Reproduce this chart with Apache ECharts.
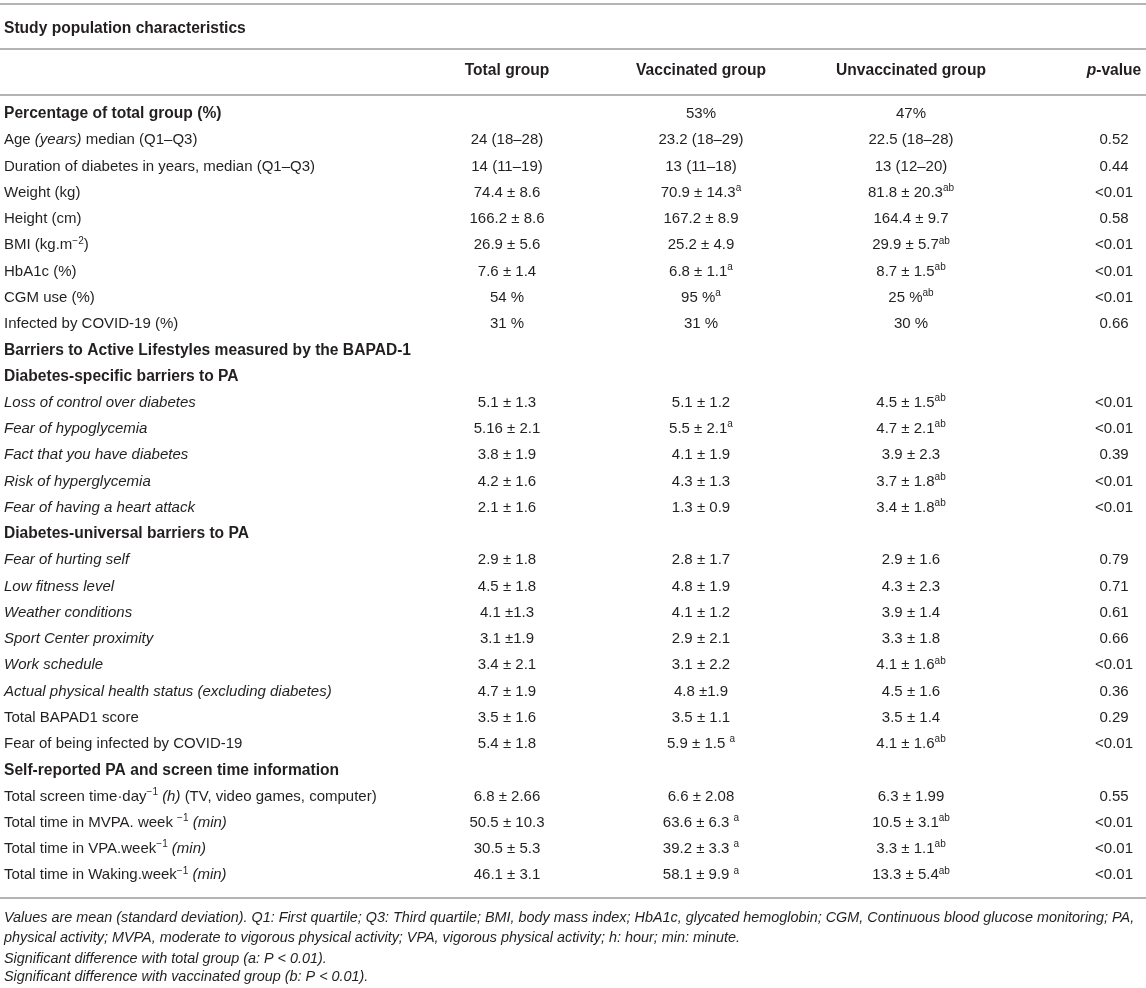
<!DOCTYPE html>
<html>
<head>
<meta charset="utf-8">
<title>Study population characteristics</title>
<script src="https://cdn.jsdelivr.net/npm/echarts@6/dist/echarts.min.js"></script>
<style>
  html, body { margin: 0; padding: 0; background: #fff; }
  #main { width: 1146px; height: 988px; }
</style>
</head>
<body>
<div id="main"></div>
<script>
// markup: *italic*  ^superscript^
const titleText = 'Study population characteristics';
const headers = ['Total group', 'Vaccinated group', 'Unvaccinated group', '*p*-value'];

const rowLabels = [
  'Percentage of total group (%)',
  'Age *(years)* median (Q1–Q3)',
  'Duration of diabetes in years, median (Q1–Q3)',
  'Weight (kg)',
  'Height (cm)',
  'BMI (kg.m^−2^)',
  'HbA1c (%)',
  'CGM use (%)',
  'Infected by COVID-19 (%)',
  'Barriers to Active Lifestyles measured by the BAPAD-1',
  'Diabetes-specific barriers to PA',
  '*Loss of control over diabetes*',
  '*Fear of hypoglycemia*',
  '*Fact that you have diabetes*',
  '*Risk of hyperglycemia*',
  '*Fear of having a heart attack*',
  'Diabetes-universal barriers to PA',
  '*Fear of hurting self*',
  '*Low fitness level*',
  '*Weather conditions*',
  '*Sport Center proximity*',
  '*Work schedule*',
  '*Actual physical health status (excluding diabetes)*',
  'Total BAPAD1 score',
  'Fear of being infected by COVID-19',
  'Self-reported PA and screen time information',
  'Total screen time·day^−1^ *(h)* (TV, video games, computer)',
  'Total time in MVPA. week ^−1^ *(min)*',
  'Total time in VPA.week^−1^ *(min)*',
  'Total time in Waking.week^−1^ *(min)*'
];
const sectionRows = [0, 9, 10, 16, 25];

const totalGroup = [
  '', '24 (18–28)', '14 (11–19)', '74.4 ± 8.6', '166.2 ± 8.6', '26.9 ± 5.6', '7.6 ± 1.4', '54 %', '31 %',
  '', '',
  '5.1 ± 1.3', '5.16 ± 2.1', '3.8 ± 1.9', '4.2 ± 1.6', '2.1 ± 1.6',
  '',
  '2.9 ± 1.8', '4.5 ± 1.8', '4.1 ±1.3', '3.1 ±1.9', '3.4 ± 2.1', '4.7 ± 1.9', '3.5 ± 1.6', '5.4 ± 1.8',
  '',
  '6.8 ± 2.66', '50.5 ± 10.3', '30.5 ± 5.3', '46.1 ± 3.1'
];
const vaccinated = [
  '53%', '23.2 (18–29)', '13 (11–18)', '70.9 ± 14.3^a^', '167.2 ± 8.9', '25.2 ± 4.9', '6.8 ± 1.1^a^', '95 %^a^', '31 %',
  '', '',
  '5.1 ± 1.2', '5.5 ± 2.1^a^', '4.1 ± 1.9', '4.3 ± 1.3', '1.3 ± 0.9',
  '',
  '2.8 ± 1.7', '4.8 ± 1.9', '4.1 ± 1.2', '2.9 ± 2.1', '3.1 ± 2.2', '4.8 ±1.9', '3.5 ± 1.1', '5.9 ± 1.5 ^a^',
  '',
  '6.6 ± 2.08', '63.6 ± 6.3 ^a^', '39.2 ± 3.3 ^a^', '58.1 ± 9.9 ^a^'
];
const unvaccinated = [
  '47%', '22.5 (18–28)', '13 (12–20)', '81.8 ± 20.3^ab^', '164.4 ± 9.7', '29.9 ± 5.7^ab^', '8.7 ± 1.5^ab^', '25 %^ab^', '30 %',
  '', '',
  '4.5 ± 1.5^ab^', '4.7 ± 2.1^ab^', '3.9 ± 2.3', '3.7 ± 1.8^ab^', '3.4 ± 1.8^ab^',
  '',
  '2.9 ± 1.6', '4.3 ± 2.3', '3.9 ± 1.4', '3.3 ± 1.8', '4.1 ± 1.6^ab^', '4.5 ± 1.6', '3.5 ± 1.4', '4.1 ± 1.6^ab^',
  '',
  '6.3 ± 1.99', '10.5 ± 3.1^ab^', '3.3 ± 1.1^ab^', '13.3 ± 5.4^ab^'
];
const pValues = [
  '', '0.52', '0.44', '<0.01', '0.58', '<0.01', '<0.01', '<0.01', '0.66',
  '', '',
  '<0.01', '<0.01', '0.39', '<0.01', '<0.01',
  '',
  '0.79', '0.71', '0.61', '0.66', '<0.01', '0.36', '0.29', '<0.01',
  '',
  '0.55', '<0.01', '<0.01', '<0.01'
];

const footnotes = [
  'Values are mean (standard deviation). Q1: First quartile; Q3: Third quartile; BMI, body mass index; HbA1c, glycated hemoglobin; CGM, Continuous blood glucose monitoring; PA,',
  'physical activity; MVPA, moderate to vigorous physical activity; VPA, vigorous physical activity; h: hour; min: minute.',
  'Significant difference with total group (a: P < 0.01).',
  'Significant difference with vaccinated group (b: P < 0.01).'
];

// layout (axis units: x in px across the table, y in row steps)
const ROW_H = 26.25, ROW0_PX = 114, H = 988;
const titleRow = -3.24, headerRow = -1.64;
const footRows = [30.63, 31.39, 32.19, 32.88];
const ruleRows = [-4.19, -2.48, -0.72, 29.87];
const columns = [
  { texts: totalGroup, x: 507, align: 'center' },
  { texts: vaccinated, x: 701, align: 'center' },
  { texts: unvaccinated, x: 911, align: 'center' },
  { texts: pValues, x: 1114, align: 'center' }
];
const LEFT_X = 4;
const FONT = '"Liberation Sans", Arial, Helvetica, sans-serif';
const INK = '#231f20';

function mk(size, weight, style, extra) {
  return Object.assign({ fontSize: size, fontWeight: weight, fontStyle: style, fontFamily: FONT, color: INK, lineHeight: 19 }, extra || {});
}
const rich = {
  n: mk(15, 'normal', 'normal'),
  i: mk(15, 'normal', 'italic'),
  s: mk(10, 'normal', 'normal', { verticalAlign: 'top', lineHeight: 13 }),
  b: mk(15.6, 'bold', 'normal'),
  bi: mk(15.6, 'bold', 'italic'),
  f: mk(14.4, 'normal', 'italic', { color: '#333' })
};

function toRich(str, bold) {
  const parts = str.split(/(\*[^*]+\*|\^[^^]+\^)/).filter(p => p.length);
  return parts.map(p => {
    if (p[0] === '*') return '{' + (bold ? 'bi' : 'i') + '|' + p.slice(1, -1) + '}';
    if (p[0] === '^') return '{s|' + p.slice(1, -1) + '}';
    return '{' + (bold ? 'b' : 'n') + '|' + p + '}';
  }).join('');
}

// a text column drawn through the axes
function textSeries(name, items) {
  return {
    name: name,
    type: 'custom',
    silent: true,
    data: items.map(it => [it.x, it.row]),
    renderItem: function (params, api) {
      const it = items[params.dataIndex];
      const pt = api.coord([api.value(0), api.value(1)]);
      return {
        type: 'text',
        x: pt[0],
        y: pt[1],
        style: {
          text: it.text,
          rich: rich,
          align: it.align,
          verticalAlign: 'middle',
          fill: INK
        }
      };
    }
  };
}

const labelItems = rowLabels.map((t, i) => ({
  x: LEFT_X, row: i, align: 'left', text: toRich(t, sectionRows.includes(i))
}));
labelItems.push({ x: LEFT_X, row: titleRow, align: 'left', text: toRich(titleText, true) });

const headerItems = headers.map((t, c) => ({
  x: columns[c].x, row: headerRow, align: columns[c].align, text: toRich(t, true)
}));

const cellItems = [];
columns.forEach(col => {
  col.texts.forEach((t, i) => {
    if (t) cellItems.push({ x: col.x, row: i, align: col.align, text: toRich(t, false) });
  });
});

const footItems = footnotes.map((t, i) => ({
  x: LEFT_X, row: footRows[i], align: 'left', text: '{f|' + t + '}'
}));

const series = [
  textSeries('labels', labelItems),
  textSeries('headers', headerItems),
  textSeries('cells', cellItems),
  textSeries('footnotes', footItems)
];
series[0].markLine = {
  silent: true,
  symbol: ['none', 'none'],
  label: { show: false },
  lineStyle: { color: '#b4b4b4', width: 2, type: 'solid' },
  data: ruleRows.map(r => ({ yAxis: r }))
};

const chart = echarts.init(document.getElementById('main'));
chart.setOption({
  animation: false,
  backgroundColor: '#ffffff',
  grid: { left: 0, right: 0, top: 0, bottom: 0 },
  xAxis: { type: 'value', min: 0, max: 1146, show: false },
  yAxis: {
    type: 'value',
    inverse: true,
    min: -ROW0_PX / ROW_H,
    max: (H - ROW0_PX) / ROW_H,
    show: false
  },
  series: series
});
</script>
</body>
</html>
